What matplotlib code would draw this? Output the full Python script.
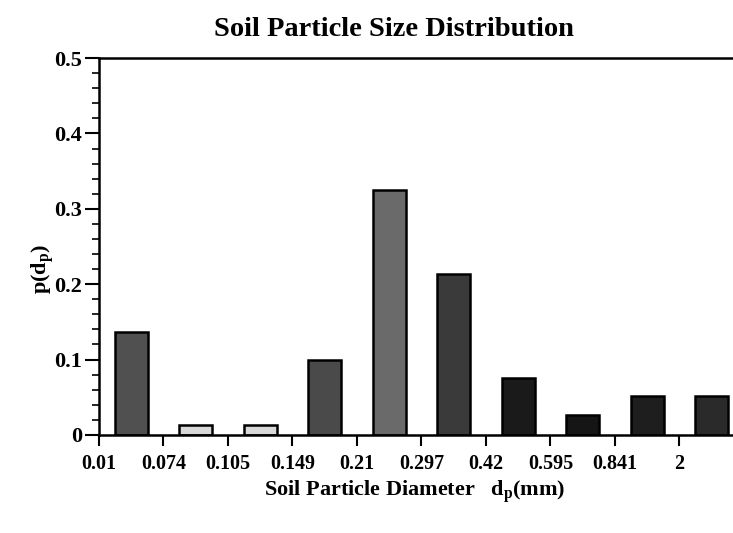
import matplotlib
matplotlib.use('Agg')
import matplotlib.pyplot as plt
from matplotlib.ticker import MultipleLocator

plt.rcParams['font.family'] = 'Liberation Serif'
plt.rcParams['font.weight'] = 'bold'
plt.rcParams['mathtext.fontset'] = 'custom'
plt.rcParams['mathtext.rm'] = 'Liberation Serif:bold'
plt.rcParams['mathtext.it'] = 'Liberation Serif:bold'

# data
sizes = ['0.01', '0.074', '0.105', '0.149', '0.21', '0.297', '0.42', '0.595', '0.841', '2']
p_dp = [0.137, 0.013, 0.013, 0.100, 0.325, 0.213, 0.076, 0.027, 0.051, 0.051]
bar_shades = ['#505050', '#d8d8d8', '#d8d8d8', '#4a4a4a', '#6a6a6a',
              '#3a3a3a', '#1a1a1a', '#151515', '#1e1e1e', '#2a2a2a']
y_ticks = [0, 0.1, 0.2, 0.3, 0.4, 0.5]
y_labels = ['0', '0.1', '0.2', '0.3', '0.4', '0.5']

fig = plt.figure(figsize=(7.33, 5.33), dpi=100)
ax = fig.add_axes([0.135, 0.184, 0.865, 0.707])

pos = [i + 0.5 for i in range(len(p_dp))]
ax.bar(pos, p_dp, width=0.51, color=bar_shades, edgecolor='black', linewidth=1.8)

ax.set_xlim(0, 9.83)
ax.set_ylim(0, 0.5)
ax.set_xticks(range(len(sizes)))
ax.set_xticklabels(sizes)
ax.set_yticks(y_ticks)
ax.set_yticklabels(y_labels)
ax.yaxis.set_minor_locator(MultipleLocator(0.02))

ax.tick_params(axis='both', which='major', width=1.5, direction='out')
ax.tick_params(axis='y', which='major', length=10, labelsize=16, pad=2)
ax.tick_params(axis='x', which='major', length=8, labelsize=14.5, pad=6)
ax.tick_params(axis='y', which='minor', length=5, width=1.2)
ax.tick_params(top=False, right=False)

ax.spines['right'].set_visible(False)
for s in ['left', 'bottom', 'top']:
    ax.spines[s].set_linewidth(1.8)

fig.text(0.537, 0.945, 'Soil Particle Size Distribution', ha='center', va='center',
         fontsize=20.5, fontweight='bold')
fig.text(0.566, 0.078, r'Soil Particle Diameter   d$_{\rm p}$(mm)', ha='center', va='center',
         fontsize=16, fontweight='bold')
fig.text(0.058, 0.495, r'p(d$_{\rm p}$)', ha='center', va='center', rotation=90,
         fontsize=16, fontweight='bold')

plt.savefig('out.png', dpi=100)
